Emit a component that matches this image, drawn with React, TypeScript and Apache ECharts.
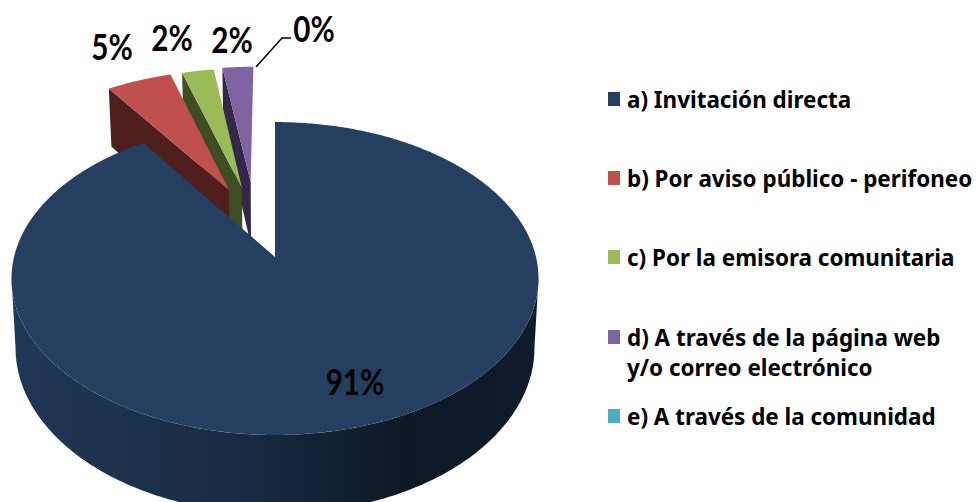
import React, { useEffect, useRef } from "react";
import * as echarts from "echarts";

const categories = [
  "a) Invitación directa",
  "b) Por aviso público - perifoneo",
  "c) Por la emisora comunitaria",
  "d) A través de la página web\ny/o correo electrónico",
  "e) A través de la comunidad",
];
const values = [90.5, 4.8, 2.35, 2.35, 0];
const topColors = ["#243f60", "#c0504d", "#9bbb59", "#8064a2", "#4bacc6"];
const wallColors = ["#1a2e47", "#4f1f1d", "#3f4d22", "#33284a", "#1f6b80"];

// Layout: each slice's exploded apex in pie-plane units, radius, draw order, and label position.
const explode = [[0, 0], [-0.1875, 0.464], [-0.135, 0.479], [-0.1, 0.524], [-0.1, 0.524]];
const radii = [1, 1, 1, 0.97, 0.97];
const order = [40, 30, 20, 10, 5];
const labelAt = [[355, 381], [112, 46], [172, 37], [232, 39], [314, 28]];
const legendY = [99, 178, 257, 337, 416];

const CX = 275, CY = 257, A = 261, B = 153.5, K = 0.1374;
const A_LOW = 257, DEPTH = 68;

function project(u: number, v: number, low: boolean): number[] {
  const w = 1 + K * v;
  const a = low ? A_LOW : A;
  return [CX + (a * u) / w, CY + ((low ? DEPTH : 0) - B * v) / w];
}

function renderItem(params: any, api: any) {
  const i = params.dataIndex;
  const share = api.value(0) as number;
  const before = api.value(1) as number;
  const total = 100;
  const from = (before / total) * Math.PI * 2;
  const to = ((before + share) / total) * Math.PI * 2;
  const [ou, ov] = explode[i];
  const r = radii[i];
  const on = (t: number, low = false) => project(ou + r * Math.sin(t), ov + r * Math.cos(t), low);
  const children: any[] = [];
  if (share > 0) {
    const rim: number[][] = [];
    const steps = Math.max(2, Math.ceil((to - from) / 0.01));
    for (let s = 0; s <= steps; s++) rim.push(on(from + ((to - from) * s) / steps));
    if (i === 0) {
      // The silhouette of the disc runs between the points of widest reach.
      const t0 = Math.acos(-K), t1 = Math.PI * 2 - t0;
      const front: number[][] = [], back: number[][] = [];
      for (let s = 0; s <= 200; s++) {
        const t = t0 + ((t1 - t0) * s) / 200;
        front.push(on(t));
        back.unshift(on(t, true));
      }
      children.push({
        type: "polygon",
        z2: order[i] - 1,
        shape: { points: front.concat(back) },
        style: {
          fill: {
            type: "linear", x: 0, y: 0, x2: 1, y2: 0,
            colorStops: [
              { offset: 0, color: "#1f3857" },
              { offset: 0.45, color: "#182a41" },
              { offset: 0.75, color: "#0d1826" },
              { offset: 1, color: "#0f1b2b" },
            ],
          },
        },
      });
    } else {
      const apex = project(ou, ov, false);
      const apexLow = project(ou, ov, true);
      children.push({
        type: "polygon",
        z2: order[i] - 1,
        shape: { points: [on(from), apex, apexLow, on(from, true)] },
        style: { fill: wallColors[i] },
      });
    }
    children.push({
      type: "polygon",
      z2: order[i],
      shape: { points: [project(ou, ov, false)].concat(rim) },
      style: { fill: topColors[i] },
    });
  }
  const pct = Math.round(share);
  children.push({
    type: "text",
    z2: 100,
    x: labelAt[i][0], y: labelAt[i][1],
    scaleX: 0.8,
    style: {
      text: pct + "%",
      fill: "#000",
      font: 'bold 37px Lato',
      align: "center", verticalAlign: "middle",
    },
  });
  return { type: "group", children };
}

export default function App() {
  const ref = useRef<HTMLDivElement>(null);
  useEffect(() => {
    const chart = echarts.init(ref.current!, undefined, { renderer: "svg" });
    let run = 0;
    const rows = values.map((v) => {
      const r = [v, run];
      run += v;
      return r;
    });
    const legend: any[] = [];
    categories.forEach((name, i) => {
      legend.push({
        type: "rect",
        shape: { x: 608, y: legendY[i] - 7, width: 12, height: 14 },
        style: { fill: topColors[i] },
      });
      name.split("\n").forEach((line, j) => {
        legend.push({
          type: "text",
          x: 627, y: legendY[i] + j * 30,
          scaleX: 0.935,
          style: {
            text: line,
            fill: "#000",
            font: 'bold 24px "Noto Sans"',
            align: "left", verticalAlign: "middle",
          },
        });
      });
    });
    chart.setOption({
      animation: false,
      backgroundColor: "#fff",
      series: [{
        type: "custom",
        coordinateSystem: "none",
        silent: true,
        renderItem,
        data: rows,
      }],
      graphic: [
        {
          type: "polyline",
          shape: { points: [[256, 67], [282, 38], [291, 38]] },
          style: { stroke: "#000", lineWidth: 1.5, fill: "none" },
        },
        ...legend,
      ],
    });
    return () => chart.dispose();
  }, []);
  return <div ref={ref} style={{ position: "fixed", left: 0, top: 0, width: 977, height: 502 }} />;
}
